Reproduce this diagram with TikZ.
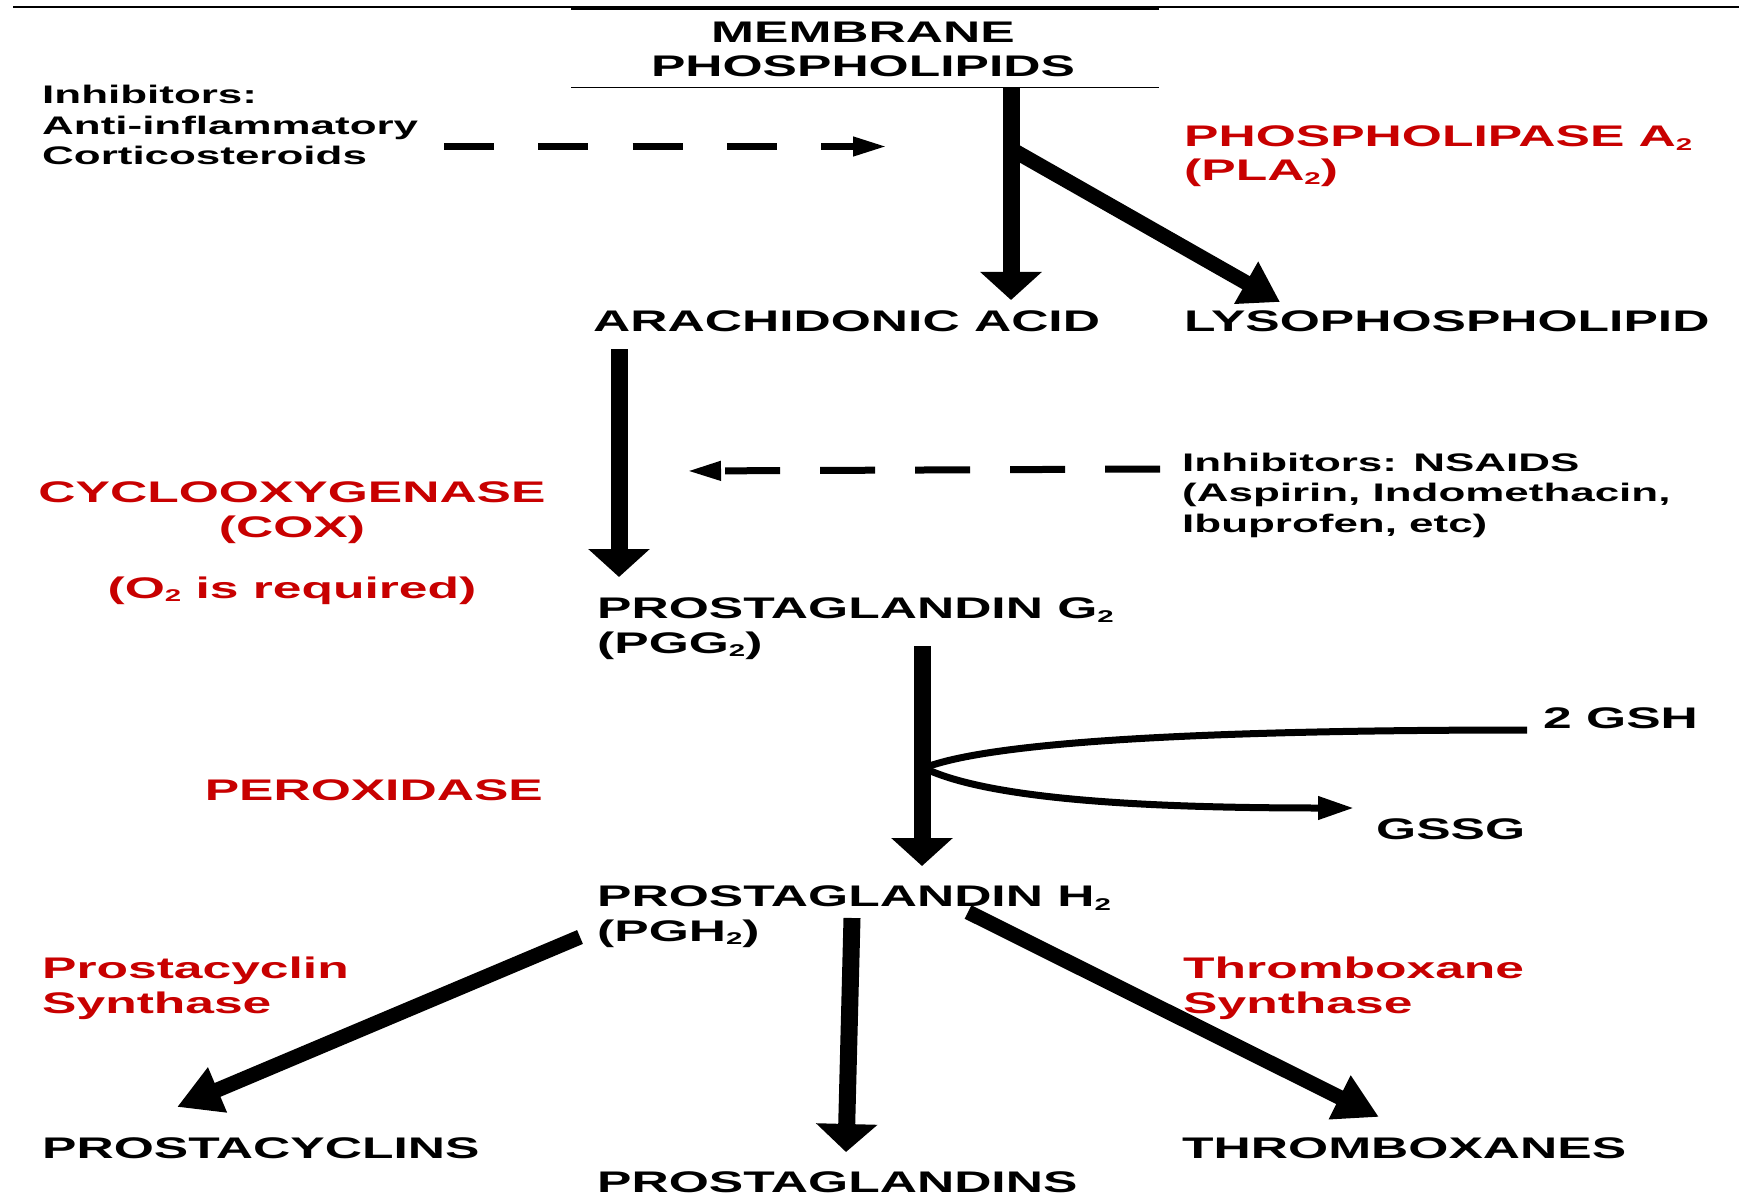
\documentclass[tikz,border=0pt]{standalone}
\usepackage{fontspec}
\usetikzlibrary{arrows.meta}
\newfontfamily\lab{Liberation Sans}[FakeStretch=1.73]
\definecolor{enzred}{RGB}{200,0,0}
\newcommand\sbs[1]{\raisebox{-0.12em}{\fontsize{17}{17}\selectfont #1}}
\tikzset{
  lbl/.style={font=\lab\bfseries\fontsize{29.8}{34.5}\selectfont, inner sep=0pt, text=black},
  sml/.style={font=\lab\bfseries\fontsize{25.4}{30.5}\selectfont, inner sep=0pt, align=left, text=black},
  enz/.style={lbl, text=enzred},
  fat/.style={line width=17pt, -{Triangle[length=28pt,width=60pt]}},
  slant/.style={line width=15pt, -{Triangle[length=44pt,width=46pt]}},
  dsh/.style={line width=7pt, -{Triangle[length=34pt,width=18pt]}},
  glut/.style={line width=7pt},
}
\begin{document}
\begin{tikzpicture}[x=1pt,y=-1pt]
\useasboundingbox (0,0) rectangle (1739,1198);
\fill[white] (0,0) rectangle (1739,1198);
% rules
\coordinate (rl) at (13,7);
\coordinate (rr) at (1739,7);
\coordinate (ml) at (571,8);
\coordinate (mr) at (1159,8);
\coordinate (bl) at (571,87.5);
\coordinate (br) at (1159,87.5);
\draw[line width=2pt] (rl) -- (rr);
\draw[line width=4pt] (ml) -- (mr);
\draw[line width=1.6pt] (bl) -- (br);
% texts (base anchor of a multi-line node = baseline of its last line)
\node[lbl, align=center, anchor=base] (mem) at (863,77) {MEMBRANE\\PHOSPHOLIPIDS};
\node[sml, anchor=base west] (inhA) at (42,165) {Inhibitors:\\Anti-inflammatory\\Corticosteroids};
\node[enz, align=left, anchor=base west] (pla) at (1184,181) {PHOSPHOLIPASE A\sbs{2}\\(PLA\sbs{2})};
\node[lbl, anchor=base west] (aa) at (593,331) {ARACHIDONIC ACID};
\node[lbl, anchor=base west] (lyso) at (1184,331) {LYSOPHOSPHOLIPID};
\node[sml, anchor=base west] (nsaid) at (1182,532) {Inhibitors: NSAIDS\\(Aspirin, Indomethacin,\\Ibuprofen, etc)};
\node[enz, align=center, anchor=base] (cox) at (292,537) {CYCLOOXYGENASE\\(COX)};
\node[enz, anchor=base] (otwo) at (292,598) {(O\sbs{2} is required)};
\node[lbl, align=left, anchor=base west] (pgg) at (597,653) {PROSTAGLANDIN G\sbs{2}\\(PGG\sbs{2})};
\node[lbl, anchor=base west] (gsh) at (1543,728) {2 GSH};
\node[lbl, anchor=base west] (gssg) at (1376,839) {GSSG};
\node[enz, anchor=base east] (perox) at (543,800) {PEROXIDASE};
\node[lbl, align=left, anchor=base west] (pgh) at (597,941) {PROSTAGLANDIN H\sbs{2}\\(PGH\sbs{2})};
\node[enz, align=left, anchor=base west] (pcs) at (42,1013) {Prostacyclin\\Synthase};
\node[enz, align=left, anchor=base west] (txs) at (1183,1013) {Thromboxane\\Synthase};
\node[lbl, anchor=base west] (pcy) at (42,1158) {PROSTACYCLINS};
\node[lbl, anchor=base west] (txa) at (1182,1158) {THROMBOXANES};
\node[lbl, anchor=base west] (pgs) at (597,1192) {PROSTAGLANDINS};
% connector end points
\coordinate (plaTop) at (1011,87);
\coordinate (plaBr) at (1011,149);
\coordinate (aaIn) at (1011,300);
\coordinate (lysoIn) at (1280,302);
\coordinate (coxS) at (619,349);
\coordinate (coxE) at (619,577);
\coordinate (perS) at (922,646);
\coordinate (perE) at (922,866);
\coordinate (gbr) at (924,768);
\coordinate (gshEnd) at (1527,730);
\coordinate (gssgIn) at (1354,808);
\coordinate (inhS) at (444,146.5);
\coordinate (inhE) at (887,146.5);
\coordinate (nsS) at (1160,469);
\coordinate (nsE) at (687,471);
\coordinate (hL) at (580,937);
\coordinate (hM) at (852,918);
\coordinate (hR) at (968,912);
\coordinate (pcyIn) at (177,1107);
\coordinate (pgsIn) at (846,1152);
\coordinate (txaIn) at (1379,1117);
% arrows
\draw[fat] (plaTop) -- (aaIn);
\draw[line width=15pt, -{Triangle[length=39pt,width=46pt]}] (plaBr) -- (lysoIn);
\draw[fat] (coxS) -- (coxE);
\draw[fat] (perS) -- (perE);
\draw[glut] (gbr) .. controls (990,742) and (1200,730) .. (gshEnd);
\draw[glut, -{Triangle[length=36pt,width=22pt]}] (gbr) .. controls (990,800) and (1150,808) .. (gssgIn);
\draw[dsh, dash pattern=on 50pt off 44.3pt] (inhS) -- (inhE);
\draw[dsh, dash pattern=on 55pt off 40pt] (nsS) -- (nsE);
\draw[slant] (hL) -- (pcyIn);
\draw[fat] (hM) -- (pgsIn);
\draw[slant] (hR) -- (txaIn);
\end{tikzpicture}
\end{document}
